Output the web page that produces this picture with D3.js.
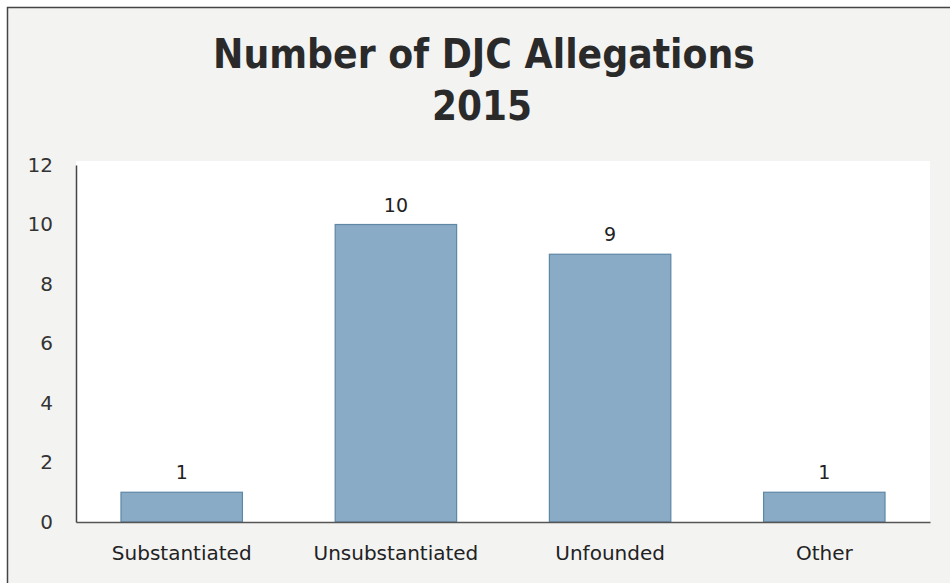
<!DOCTYPE html>
<html><head><meta charset="utf-8">
<script src="https://cdn.jsdelivr.net/npm/d3@7"></script>
<style>body{margin:0;background:#fff}svg{display:block}</style>
</head><body>
<svg id="c" width="950" height="583"></svg>
<script>
const categories = ["Substantiated", "Unsubstantiated", "Unfounded", "Other"];
const values = [1, 10, 9, 1];
const yTicks = [0, 2, 4, 6, 8, 10, 12];
const titleLines = ["Number of DJC Allegations", "2015"];

const svg = d3.select("#c");
const m = {left: 76, right: 930, top: 165, bottom: 522};

// frame
svg.append("rect").attr("x", 7.5).attr("y", 7.5).attr("width", 950).attr("height", 590)
  .attr("fill", "#f3f3f2").attr("stroke", "#444").attr("stroke-width", 1.5);
// plot area
svg.append("rect").attr("x", m.left).attr("y", m.top - 4).attr("width", m.right - m.left).attr("height", m.bottom - m.top + 4)
  .attr("fill", "#ffffff");

const x = d3.scaleBand().domain(categories).range([m.left, m.right]).paddingInner(0.433).paddingOuter(0.21);
const y = d3.scaleLinear().domain([0, 12]).range([m.bottom, m.top]);

const font = "'DejaVu Sans',sans-serif";

svg.selectAll("rect.bar").data(values).join("rect").attr("class", "bar")
  .attr("x", (d, i) => x(categories[i]))
  .attr("y", d => y(d))
  .attr("width", x.bandwidth())
  .attr("height", d => y(0) - y(d))
  .attr("fill", "#89abc5").attr("stroke", "#5f87a6").attr("stroke-width", 1.2);

svg.selectAll("text.val").data(values).join("text").attr("class", "val")
  .attr("x", (d, i) => x(categories[i]) + x.bandwidth() / 2)
  .attr("y", d => y(d) - 13)
  .attr("text-anchor", "middle").attr("font-family", font).attr("font-size", 19)
  .attr("fill", "#222").text(d => d);

// axes
const yAxis = d3.axisLeft(y).tickValues(yTicks).tickSize(0).tickPadding(23);
const gy = svg.append("g").attr("transform", `translate(${m.left},0)`).call(yAxis);
gy.select(".domain").attr("stroke", "#444").attr("stroke-width", 1.5);
gy.selectAll("text").attr("font-family", font).attr("font-size", 20).attr("fill", "#333");

const xAxis = d3.axisBottom(x).tickSize(0).tickPadding(24);
const gx = svg.append("g").attr("transform", `translate(0,${m.bottom})`).call(xAxis);
gx.select(".domain").attr("stroke", "#555").attr("stroke-width", 1.5);
gx.selectAll("text").attr("font-family", font).attr("font-size", 20).attr("fill", "#222");

// title
const tfont = "'DejaVu Sans',sans-serif";
svg.append("text").attr("x", 484).attr("y", 68).attr("text-anchor", "middle")
  .attr("font-family", tfont).attr("font-weight", "bold").attr("font-size", 41).attr("fill", "#2a2a2a")
  .attr("textLength", 542).attr("lengthAdjust", "spacingAndGlyphs")
  .text(titleLines[0]);
svg.append("text").attr("x", 482).attr("y", 120).attr("text-anchor", "middle")
  .attr("font-family", tfont).attr("font-weight", "bold").attr("font-size", 40).attr("fill", "#2a2a2a")
  .attr("textLength", 100).attr("lengthAdjust", "spacingAndGlyphs")
  .text(titleLines[1]);
</script>
</body></html>
